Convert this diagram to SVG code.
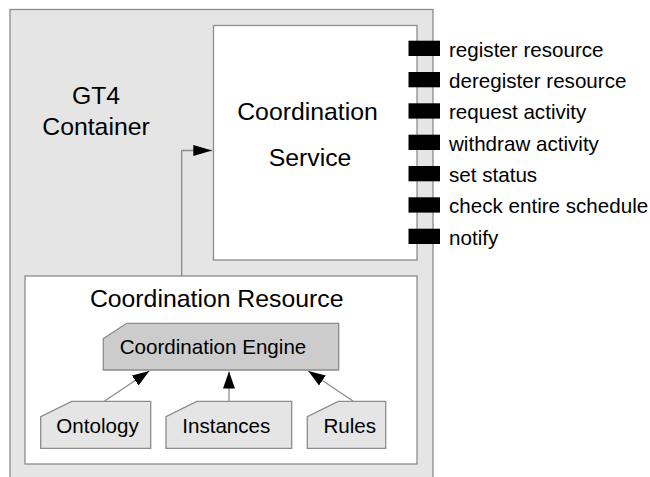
<svg xmlns="http://www.w3.org/2000/svg" width="650" height="477" viewBox="0 0 650 477">
  <style>
    .box { stroke: #8c8c8c; stroke-width: 1.3; }
    .wire { fill: none; stroke: #8c8c8c; stroke-width: 1.3; }
    .port { fill: #000000; }
    text { font-family: "Liberation Sans", Arial, sans-serif; fill: #000000; }
    .big { font-size: 24.8px; }
    .small { font-size: 20.6px; }
  </style>
  <defs>
    <marker id="arrow" markerUnits="userSpaceOnUse" markerWidth="17" markerHeight="12" refX="17" refY="6" orient="auto">
      <path d="M0,0 L17,6 L0,12 Z" fill="#000000"/>
    </marker>
    <marker id="arrow-wide" markerUnits="userSpaceOnUse" markerWidth="19" markerHeight="11" refX="19" refY="5.5" orient="auto">
      <path d="M0,0 L19,5.5 L0,11 Z" fill="#000000"/>
    </marker>
  </defs>
  <rect width="650" height="477" fill="#ffffff"/>

  <!-- GT4 container -->
  <g id="container">
    <rect class="box" x="10" y="9.5" width="423" height="480" fill="#e5e5e5"/>
    <text class="big" x="96" y="103.5" text-anchor="middle">GT4</text>
    <text class="big" x="96" y="135" text-anchor="middle">Container</text>
  </g>

  <!-- Coordination service with its operations -->
  <g id="service">
    <rect class="box" x="213.5" y="25.5" width="203.5" height="234.5" fill="#ffffff"/>
    <text class="big" x="307.5" y="119.5" text-anchor="middle">Coordination</text>
    <text class="big" x="310" y="165.5" text-anchor="middle">Service</text>
  </g>

  <g id="operations">
    <rect class="port" x="408.5" y="40.7" width="31.5" height="15.3"/>
    <rect class="port" x="408.5" y="72" width="31.5" height="15.3"/>
    <rect class="port" x="408.5" y="103.3" width="31.5" height="15.3"/>
    <rect class="port" x="408.5" y="134.7" width="31.5" height="15.3"/>
    <rect class="port" x="408.5" y="166" width="31.5" height="15.3"/>
    <rect class="port" x="408.5" y="197.3" width="31.5" height="15.3"/>
    <rect class="port" x="408.5" y="228.7" width="31.5" height="15.3"/>
    <text class="small" x="449" y="56.5">register resource</text>
    <text class="small" x="449" y="87.8">deregister resource</text>
    <text class="small" x="449" y="119.1">request activity</text>
    <text class="small" x="449" y="150.5">withdraw activity</text>
    <text class="small" x="449" y="181.8">set status</text>
    <text class="small" x="449" y="213.1">check entire schedule</text>
    <text class="small" x="449" y="244.5">notify</text>
  </g>

  <!-- Coordination resource -->
  <g id="resource">
    <rect class="box" x="25" y="276" width="392" height="188" fill="#ffffff"/>
    <text class="big" x="216.7" y="307.3" text-anchor="middle">Coordination Resource</text>
  </g>

  <g id="engine">
    <path class="box" d="M126.7,323.3 L338.7,323.3 L338.7,370 L103.3,370 L103.3,338.7 Z" fill="#cccccc"/>
    <text class="small" x="213" y="354.3" text-anchor="middle">Coordination Engine</text>
  </g>

  <g id="ontology">
    <path class="box" d="M71.7,401.3 L150.7,401.3 L150.7,448.3 L40.7,448.3 L40.7,416.7 Z" fill="#e5e5e5"/>
    <text class="small" x="97.5" y="433.3" text-anchor="middle">Ontology</text>
  </g>

  <g id="instances">
    <path class="box" d="M196.7,401.3 L291.7,401.3 L291.7,448.3 L166,448.3 L166,416.7 Z" fill="#e5e5e5"/>
    <text class="small" x="226.3" y="433.3" text-anchor="middle">Instances</text>
  </g>

  <g id="rules">
    <path class="box" d="M338.3,401.3 L385.7,401.3 L385.7,448.3 L307.3,448.3 L307.3,416.7 Z" fill="#e5e5e5"/>
    <text class="small" x="349.8" y="433.3" text-anchor="middle">Rules</text>
  </g>

  <!-- Connectors -->
  <g id="connectors">
    <path class="wire" d="M181.7,276 L181.7,150.5 L212.3,150.5" marker-end="url(#arrow-wide)"/>
    <path class="wire" d="M104.3,401.3 L149.3,371" marker-end="url(#arrow)"/>
    <path class="wire" d="M229,401.3 L229,371.5" marker-end="url(#arrow)"/>
    <path class="wire" d="M353.3,401.3 L308.3,371" marker-end="url(#arrow)"/>
  </g>
</svg>
